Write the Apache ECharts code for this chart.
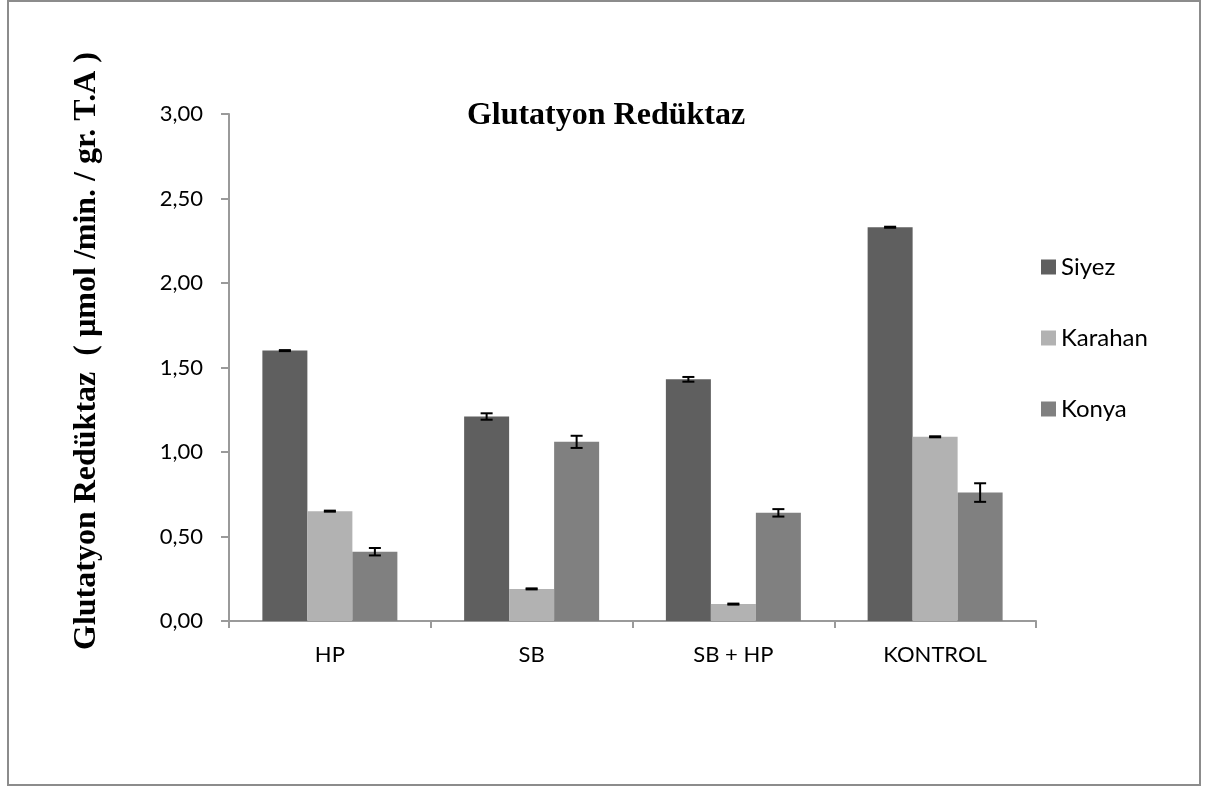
<!DOCTYPE html>
<html>
<head>
<meta charset="utf-8">
<script src="https://cdn.jsdelivr.net/npm/echarts@6/dist/echarts.min.js"></script>
<style>
  html, body { margin: 0; padding: 0; background: #ffffff; }
  #chart { width: 1207px; height: 787px; }
</style>
</head>
<body>
<div id="chart"></div>
<script>
// Glutatyon Redüktaz activity per treatment and wheat variety
const categories = ['HP', 'SB', 'SB + HP', 'KONTROL'];
const seriesNames = ['Siyez', 'Karahan', 'Konya'];
const siyez = [1.60, 1.21, 1.43, 2.33];
const karahan = [0.65, 0.19, 0.10, 1.09];
const konya = [0.41, 1.06, 0.64, 0.76];
const siyezErr = [0.003, 0.019, 0.014, 0.003];
const karahanErr = [0.003, 0.003, 0.003, 0.003];
const konyaErr = [0.022, 0.036, 0.022, 0.055];
const yTicks = [0, 0.5, 1, 1.5, 2, 2.5, 3];

const values = [siyez, karahan, konya];
const errors = [siyezErr, karahanErr, konyaErr];
const colors = ['#5f5f5f', '#b2b2b2', '#808080'];
const BAR_W = 45;

const chart = echarts.init(document.getElementById('chart'));

const barSeries = seriesNames.map((name, i) => ({
  name: name,
  type: 'bar',
  data: values[i],
  barWidth: BAR_W,
  barGap: '0%',
  itemStyle: { color: colors[i] },
  z: 2
}));

// error bars: vertical whisker with caps, offset to sit on its bar
const errSeries = seriesNames.map((name, i) => ({
  name: name + ' err',
  type: 'custom',
  z: 5,
  data: values[i].map((v, k) => [k, v, errors[i][k]]),
  renderItem: function (params, api) {
    const k = api.value(0), v = api.value(1), e = api.value(2);
    const off = (i - 1) * BAR_W;
    const top = api.coord([k, v + e]);
    const bot = api.coord([k, v - e]);
    const x = top[0] + off;
    const cap = 6;
    const style = { stroke: '#000', lineWidth: 2 };
    return {
      type: 'group',
      children: [
        { type: 'line', shape: { x1: x, y1: top[1], x2: x, y2: bot[1] }, style: style },
        { type: 'line', shape: { x1: x - cap, y1: top[1], x2: x + cap, y2: top[1] }, style: style },
        { type: 'line', shape: { x1: x - cap, y1: bot[1], x2: x + cap, y2: bot[1] }, style: style }
      ]
    };
  },
  tooltip: { show: false }
}));

chart.setOption({
  animation: false,
  backgroundColor: '#ffffff',
  title: {
    text: 'Glutatyon Redüktaz',
    left: 601,
    textAlign: 'center',
    top: 95,
    textStyle: {
      fontFamily: 'Liberation Serif',
      fontWeight: 'bold',
      fontSize: 32,
      color: '#000'
    }
  },
  legend: {
    orient: 'vertical',
    left: 1041,
    top: 255,
    padding: 0,
    itemWidth: 15,
    itemHeight: 15,
    itemGap: 47,
    icon: 'rect',
    data: seriesNames,
    textStyle: { fontFamily: 'Lato', fontSize: 24, color: '#000', lineHeight: 24 }
  },
  grid: { left: 229, right: 171, top: 114, bottom: 166, containLabel: false },
  xAxis: {
    type: 'category',
    data: categories,
    axisLine: { lineStyle: { color: '#9a9a9a', width: 2 } },
    axisTick: { show: true, length: 7, alignWithLabel: false, lineStyle: { color: '#9a9a9a', width: 2 } },
    axisLabel: { fontFamily: 'Lato', fontSize: 22, color: '#000', margin: 23 }
  },
  yAxis: {
    type: 'value',
    min: yTicks[0],
    max: yTicks[yTicks.length - 1],
    interval: yTicks[1] - yTicks[0],
    splitLine: { show: false },
    axisLine: { show: true, lineStyle: { color: '#9a9a9a', width: 2 } },
    axisTick: { show: true, length: 8, lineStyle: { color: '#9a9a9a', width: 2 } },
    axisLabel: {
      fontFamily: 'Lato', fontSize: 22, color: '#000', margin: 26,
      formatter: v => v.toFixed(2).replace('.', ',')
    }
  },
  graphic: [
    {
      type: 'rect',
      shape: { x: 8, y: 1, width: 1192, height: 784 },
      style: { fill: 'none', stroke: '#8c8c8c', lineWidth: 2 },
      silent: true
    },
    {
      type: 'text',
      x: 87,
      y: 351,
      rotation: Math.PI / 2,
      style: {
        text: 'Glutatyon Redüktaz  ( µmol /min. / gr. T.A )',
        fontFamily: 'Liberation Serif',
        fontWeight: 'bold',
        fontSize: 32,
        fill: '#000',
        align: 'center',
        verticalAlign: 'middle'
      }
    }
  ],
  series: barSeries.concat(errSeries)
});
</script>
</body>
</html>
